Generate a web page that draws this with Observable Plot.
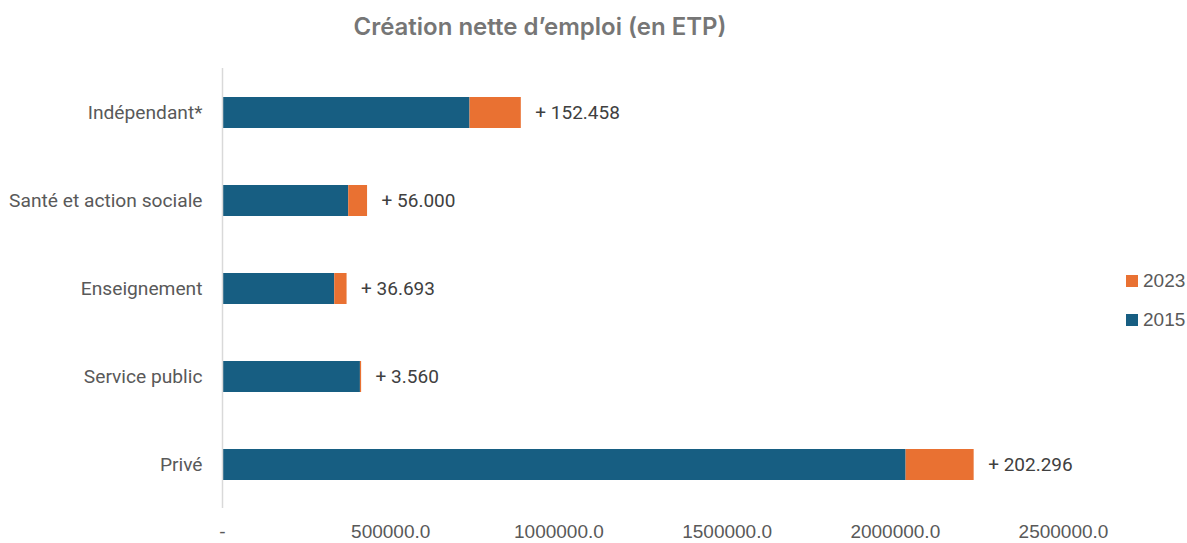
<!DOCTYPE html>
<html><head><meta charset="utf-8">
<script src="https://cdn.jsdelivr.net/npm/d3@7"></script>
<script src="https://cdn.jsdelivr.net/npm/@observablehq/plot@0.6"></script>
<style>
body{margin:0;background:#fff;}
#wrap{position:relative;width:1187px;height:543px;overflow:hidden;background:#fff;}
#title{height:52px;position:relative;}
#title span{position:absolute;left:540px;top:13px;transform:translateX(-50%);font-family:Inter,Roboto,sans-serif;font-weight:600;font-size:24px;line-height:28px;color:#767676;white-space:nowrap;}
.leg{position:absolute;left:1126px;font-family:"Liberation Sans",Arial,sans-serif;font-size:19px;color:#595959;display:flex;align-items:center;}
.leg i{display:inline-block;width:12px;height:12px;margin-right:5px;}
#chart svg{display:block;}
</style></head>
<body><div id="wrap"><div id="title"><span>Création nette d’emploi (en ETP)</span></div><div id="chart"></div></div>
<script>
const categories = ["Indépendant*", "Santé et action sociale", "Enseignement", "Service public", "Privé"];
const values2015 = [735800, 375200, 333600, 410000, 2032100];
const increase2023 = [152458, 56000, 36693, 3560, 202296];
const series = ["2015", "2023"];
const seriesColors = ["#175E82", "#E97132"];
const xTicks = [0, 500000, 1000000, 1500000, 2000000, 2500000];

const rows = [];
categories.forEach((c, i) => rows.push({cat: c, series: "2015", value: values2015[i]}));
categories.forEach((c, i) => rows.push({cat: c, series: "2023", value: increase2023[i]}));
const labels = categories.map((c, i) => ({cat: c, total: values2015[i] + increase2023[i], inc: increase2023[i]}));

const loc = d3.formatLocale({decimal: ",", thousands: ".", grouping: [3], currency: ["", ""]});
const fmtInc = loc.format(",d");
const fmtTick = d => d === 0 ? "-" : d3.format(".1f")(d);

const chart = Plot.plot({
  width: 1187,
  height: 491,
  marginLeft: 222,
  marginRight: 124,
  marginTop: 16,
  marginBottom: 35,
  style: {fontFamily: "Roboto, sans-serif", fontSize: "19px", color: "#595959", background: "#fff"},
  x: {domain: [0, 2500000]},
  y: {domain: categories, paddingInner: 0.65, paddingOuter: 0.325},
  color: {domain: series, range: seriesColors},
  marks: [
    Plot.barX(rows, {y: "cat", x: "value", fill: "series"}),
    Plot.ruleX([0], {stroke: "#d9d9d9", strokeWidth: 1.5}),
    Plot.axisY({tickSize: 0, tickPadding: 20, label: null, fontSize: 19.2}),
    Plot.axisX({ticks: xTicks, tickFormat: fmtTick, tickSize: 0, tickPadding: 16, label: null,
      fontFamily: "'Liberation Sans Narrow', 'Liberation Sans', sans-serif", fontSize: 19}),
    Plot.text(labels, {y: "cat", x: "total", text: d => "+ " + fmtInc(d.inc), dx: 14, textAnchor: "start",
      fill: "#404040", fontSize: 19})
  ]
});
document.getElementById("chart").appendChild(chart);

const wrap = document.getElementById("wrap");
[["2023", seriesColors[1], 270], ["2015", seriesColors[0], 309]].forEach(([t, c, top]) => {
  const d = document.createElement("div");
  d.className = "leg";
  d.style.top = top + "px";
  d.innerHTML = `<i style="background:${c}"></i>${t}`;
  wrap.appendChild(d);
});
</script>
</body></html>
